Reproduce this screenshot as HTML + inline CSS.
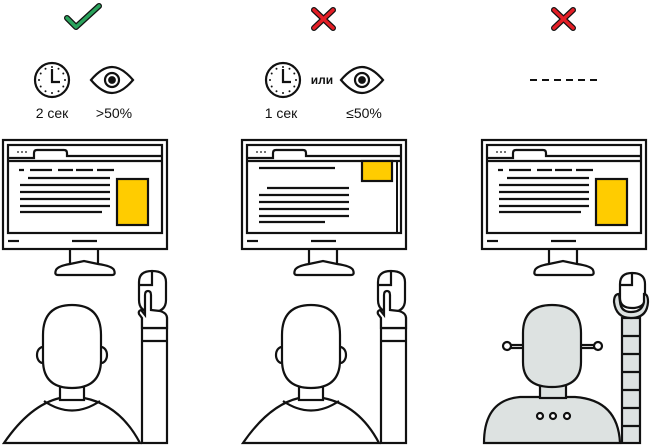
<!DOCTYPE html>
<html><head><meta charset="utf-8"><style>
html,body{margin:0;padding:0;background:#fff;width:650px;height:448px;overflow:hidden}
svg{display:block}
text{font-family:"Liberation Sans",sans-serif;fill:#111}
</style></head><body>
<svg width="650" height="448" viewBox="0 0 650 448" xmlns="http://www.w3.org/2000/svg">
<defs>
<g id="clock" fill="none" stroke="#111" stroke-width="2.2">
  <circle cx="0" cy="0" r="17"/>
  <path d="M0 -11 V2 H8"/>
  <g fill="#111" stroke="none">
    <circle cx="0" cy="-13" r="1"/><circle cx="6.5" cy="-11.3" r="1"/><circle cx="11.3" cy="-6.5" r="1"/>
    <circle cx="13" cy="0" r="1"/><circle cx="11.3" cy="6.5" r="1"/><circle cx="6.5" cy="11.3" r="1"/>
    <circle cx="0" cy="13" r="1"/><circle cx="-6.5" cy="11.3" r="1"/><circle cx="-11.3" cy="6.5" r="1"/>
    <circle cx="-13" cy="0" r="1"/><circle cx="-11.3" cy="-6.5" r="1"/><circle cx="-6.5" cy="-11.3" r="1"/>
  </g>
</g>
<g id="eye" fill="none" stroke="#111" stroke-width="2.2">
  <path d="M-21 0 Q-10 -13 0 -13 Q10 -13 21 0 Q10 13 0 13 Q-10 13 -21 0 Z"/>
  <circle cx="0" cy="0" r="7"/>
  <circle cx="0" cy="0" r="2.8" fill="#111"/>
</g>
<g id="mon" fill="none" stroke="#111" stroke-width="2.2">
  <rect x="3" y="140" width="164" height="109" fill="#fff"/>
  <rect x="8" y="145" width="154" height="88"/>
  <path d="M8 158 H34 V153 Q34 150 37 150 H64 Q67 150 67 153 V156 H162"/>
  <line x1="8" y1="161" x2="162" y2="161"/>
  <circle cx="18" cy="152" r="0.9" fill="#111" stroke="none"/>
  <circle cx="22" cy="152" r="0.9" fill="#111" stroke="none"/>
  <circle cx="26" cy="152" r="0.9" fill="#111" stroke="none"/>
  <line x1="8" y1="241" x2="19" y2="241"/>
  <line x1="72" y1="241" x2="97" y2="241"/>
  <path d="M70 249 V264 M98 249 V264"/>
  <path d="M70 264 Q58 266 56 270 Q54 275 58 275 H112 Q116 275 114 270 Q112 266 98 264 L84 261 Z" fill="#fff"/>
</g>
<g id="txt" stroke="#111" stroke-width="2.2">
  <path d="M19 170H24M30 170H52M58 170H73M76 170H93M97 170H114"/>
  <line x1="28" y1="178" x2="110" y2="178"/>
  <line x1="20" y1="185" x2="110" y2="185"/>
  <line x1="20" y1="192" x2="110" y2="192"/>
  <line x1="20" y1="199" x2="110" y2="199"/>
  <line x1="20" y1="206" x2="110" y2="206"/>
  <line x1="20" y1="212" x2="102" y2="212"/>
</g>
<g id="person" fill="#fff" stroke="#111" stroke-width="2.2">
  <path d="M4 443 Q30 405 60 398 L84 398 Q120 405 140 443 Z"/>
  <path d="M44 401 Q72 420 100 401" fill="none"/>
  <rect x="60" y="380" width="24" height="20"/>
  <ellipse cx="43" cy="355" rx="6" ry="8"/>
  <ellipse cx="101" cy="355" rx="6" ry="8"/>
  <path d="M43 335 Q43 305 72 305 Q101 305 101 335 V360 Q101 388 72 388 Q43 388 43 360 Z"/>
  <rect x="142" y="318" width="25" height="125"/>
  <line x1="142" y1="328" x2="167" y2="328"/>
  <line x1="142" y1="341" x2="167" y2="341"/>
  <path d="M139 282 Q139 271 152 271 Q166 271 166 282 V300 Q166 312 152 312 Q139 312 139 300 Z"/>
  <path d="M152 271 V285 H139" fill="none"/>
  <path d="M142 328 V318 L139 314 Q138 311 141 310 L145 315 V295 Q145 291 148 291 Q151 291 151 295 V310 L160 311 Q167 313 167 318 V328 Z"/>
</g>
</defs>

<!-- column 1 -->
<path d="M67 18 L76 27 L99 6" fill="none" stroke="#111" stroke-width="6" stroke-linecap="round" stroke-linejoin="round"/>
<path d="M67 18 L76 27 L99 6" fill="none" stroke="#2aa35c" stroke-width="3.5" stroke-linecap="round" stroke-linejoin="round"/>
<use href="#clock" transform="translate(52,80)"/>
<use href="#eye" transform="translate(112,80)"/>
<text x="52" y="118" font-size="14" text-anchor="middle">2 сек</text>
<text x="114" y="118" font-size="14" text-anchor="middle">&gt;50%</text>
<use href="#mon"/>
<rect x="117" y="179" width="31" height="46" fill="#ffcc00" stroke="#111" stroke-width="2.2"/>
<use href="#txt"/>
<use href="#person"/>

<!-- column 2 -->
<g stroke-linecap="round">
<path d="M314 10 L333 28 M333 10 L314 28" stroke="#111" stroke-width="6"/>
<path d="M314 10 L333 28 M333 10 L314 28" stroke="#e41e26" stroke-width="3.5"/>
</g>
<use href="#clock" transform="translate(283,80)"/>
<use href="#eye" transform="translate(362,80)"/>
<text x="322" y="84" font-size="12" font-weight="bold" text-anchor="middle">или</text>
<text x="281" y="118" font-size="14" text-anchor="middle">1 сек</text>
<text x="364" y="118" font-size="14" text-anchor="middle">≤50%</text>
<g transform="translate(239,0)">
  <use href="#mon"/>
  <rect x="123" y="161" width="30" height="20" fill="#ffcc00" stroke="#111" stroke-width="2.2"/>
  <line x1="158" y1="161" x2="158" y2="233" stroke="#111" stroke-width="2"/>
  <g stroke="#111" stroke-width="2.2">
    <line x1="20" y1="168" x2="96" y2="168"/>
    <line x1="28" y1="188" x2="110" y2="188"/>
    <line x1="20" y1="195" x2="110" y2="195"/>
    <line x1="20" y1="202" x2="110" y2="202"/>
    <line x1="20" y1="209" x2="110" y2="209"/>
    <line x1="20" y1="216" x2="110" y2="216"/>
    <line x1="20" y1="222" x2="86" y2="222"/>
  </g>
  <use href="#person"/>
</g>

<!-- column 3 -->
<g stroke-linecap="round">
<path d="M554 10 L573 28 M573 10 L554 28" stroke="#111" stroke-width="6"/>
<path d="M554 10 L573 28 M573 10 L554 28" stroke="#e41e26" stroke-width="3.5"/>
</g>
<line x1="530" y1="80" x2="601" y2="80" stroke="#111" stroke-width="2" stroke-dasharray="7,5"/>
<g transform="translate(479,0)">
  <use href="#mon"/>
  <rect x="117" y="179" width="31" height="46" fill="#ffcc00" stroke="#111" stroke-width="2.2"/>
  <use href="#txt"/>
</g>
<g fill="#dde2e1" stroke="#111" stroke-width="2.2">
  <path d="M484 443 Q484 400 520 397 H575 Q618 400 620 443 Z"/>
  <rect x="540" y="385" width="26" height="13"/>
  <line x1="510" y1="345" x2="524" y2="345"/>
  <line x1="510" y1="348" x2="524" y2="348"/>
  <line x1="581" y1="345" x2="595" y2="345"/>
  <line x1="581" y1="348" x2="595" y2="348"/>
  <circle cx="507" cy="346" r="4" fill="#fff"/>
  <circle cx="598" cy="346" r="4" fill="#fff"/>
  <path d="M523 333 Q523 305 552 305 Q581 305 581 333 V362 Q581 387 552 387 Q523 387 523 362 Z"/>
  <circle cx="540" cy="416" r="3" fill="#fff"/>
  <circle cx="553" cy="416" r="3" fill="#fff"/>
  <circle cx="567" cy="416" r="3" fill="#fff"/>
  <rect x="622" y="318" width="18" height="125"/>
  <path d="M622 336H640M622 354H640M622 372H640M622 390H640M622 408H640M622 426H640" fill="none"/>
  <path d="M620 284 Q620 273 632 273 Q645 273 645 284 V298 Q645 308 632 308 Q620 308 620 298 Z" fill="#fff"/>
  <path d="M632 273 V285 H620" fill="none"/>
  <path d="M619 294 Q614 294 614 302 Q616 318 631 318 Q647 318 648 302 Q648 294 644 294 V302 Q642 312 631 312 Q621 312 620 302 Z"/>
</g>
</svg>
</body></html>
